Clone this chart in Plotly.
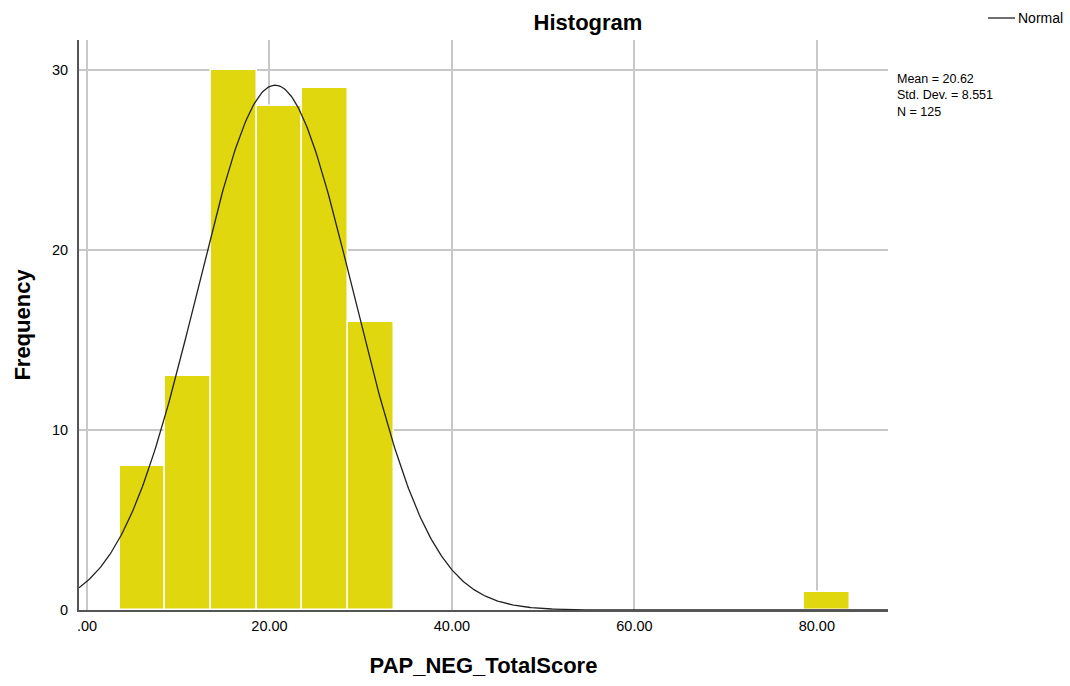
import numpy as np
import plotly.graph_objects as go

# Histogram bins (width 5) and their frequencies
bin_centers = [6.1, 11.1, 16.1, 21.1, 26.1, 31.1, 81.1]
frequencies = [8, 13, 30, 28, 29, 16, 1]
bin_width = 5.0

# Summary statistics shown beside the chart
mean_val = 20.62
std_dev = 8.551
n_total = 125

x_ticks = [0, 20, 40, 60, 80]
x_tick_labels = [".00", "20.00", "40.00", "60.00", "80.00"]
y_ticks = [0, 10, 20, 30]

x_range = [-0.88, 87.8]
y_range = [0, 31.67]

# Fitted normal curve scaled to the histogram counts
xs = np.linspace(x_range[0], x_range[1], 600)
ys = n_total * bin_width / (std_dev * np.sqrt(2 * np.pi)) * np.exp(-0.5 * ((xs - mean_val) / std_dev) ** 2)

font = "Liberation Sans, Arial, sans-serif"

W, H = 1070, 686
ML, MR, MT, MB = 79, 182, 40, 76
PW, PH = W - ML - MR, H - MT - MB


def px_x(p):
    return (p - ML) / PW


def px_y(p):
    return 1 - (p - MT) / PH


fig = go.Figure()
fig.add_trace(go.Bar(
    x=bin_centers, y=frequencies, width=bin_width,
    marker=dict(color="#E1D70F", line=dict(color="white", width=1.5)),
    showlegend=False, hoverinfo="x+y",
))
fig.add_trace(go.Scatter(
    x=xs, y=ys, mode="lines", name="Normal", showlegend=False,
    line=dict(color="#222222", width=1.3),
))

fig.update_layout(
    width=W, height=H,
    margin=dict(l=ML, r=MR, t=MT, b=MB, autoexpand=False),
    paper_bgcolor="white", plot_bgcolor="white",
    font=dict(family=font, color="#000000", size=12),
    bargap=0,
    showlegend=False,
    title=dict(text="<b>Histogram</b>", x=588 / W, xanchor="center",
               y=1 - 22 / H, yanchor="middle",
               font=dict(size=22, family=font, color="#000000")),
    xaxis=dict(
        range=x_range, tickvals=x_ticks, ticktext=x_tick_labels,
        showgrid=True, gridcolor="#C8C8C8", gridwidth=2,
        zeroline=False, showline=True, linecolor="#555555", linewidth=2,
        ticks="", tickfont=dict(size=14.5, family=font, color="#000000"),
        ticklabelstandoff=2,
        title=dict(text="<b>PAP_NEG_TotalScore</b>", standoff=24,
                   font=dict(size=22, family=font, color="#000000")),
    ),
    yaxis=dict(
        range=y_range, tickvals=y_ticks,
        showgrid=True, gridcolor="#C8C8C8", gridwidth=2,
        zeroline=False, showline=True, linecolor="#555555", linewidth=2,
        ticks="", tickfont=dict(size=14.5, family=font, color="#000000"),
        ticklabelstandoff=6,
        title=dict(text="<b>Frequency</b>", standoff=15,
                   font=dict(size=22, family=font, color="#000000")),
    ),
)

# Legend entry for the normal curve, drawn in the top-right corner
fig.add_shape(type="line", xref="paper", yref="paper",
              x0=px_x(988), x1=px_x(1015), y0=px_y(18), y1=px_y(18),
              line=dict(color="#222222", width=1.3))
fig.add_annotation(xref="paper", yref="paper", x=px_x(1016), y=px_y(18),
                   xanchor="left", yanchor="middle", showarrow=False,
                   text="Normal", font=dict(size=14, family=font, color="#000000"))

fig.add_annotation(
    xref="paper", yref="paper",
    x=px_x(895), y=px_y(70),
    xanchor="left", yanchor="top", align="left", showarrow=False,
    text=f"Mean = {mean_val:.2f}<br>Std. Dev. = {std_dev:.3f}<br>N = {n_total}",
    font=dict(size=12.5, family=font, color="#000000"),
)

fig.write_html("out.html")
